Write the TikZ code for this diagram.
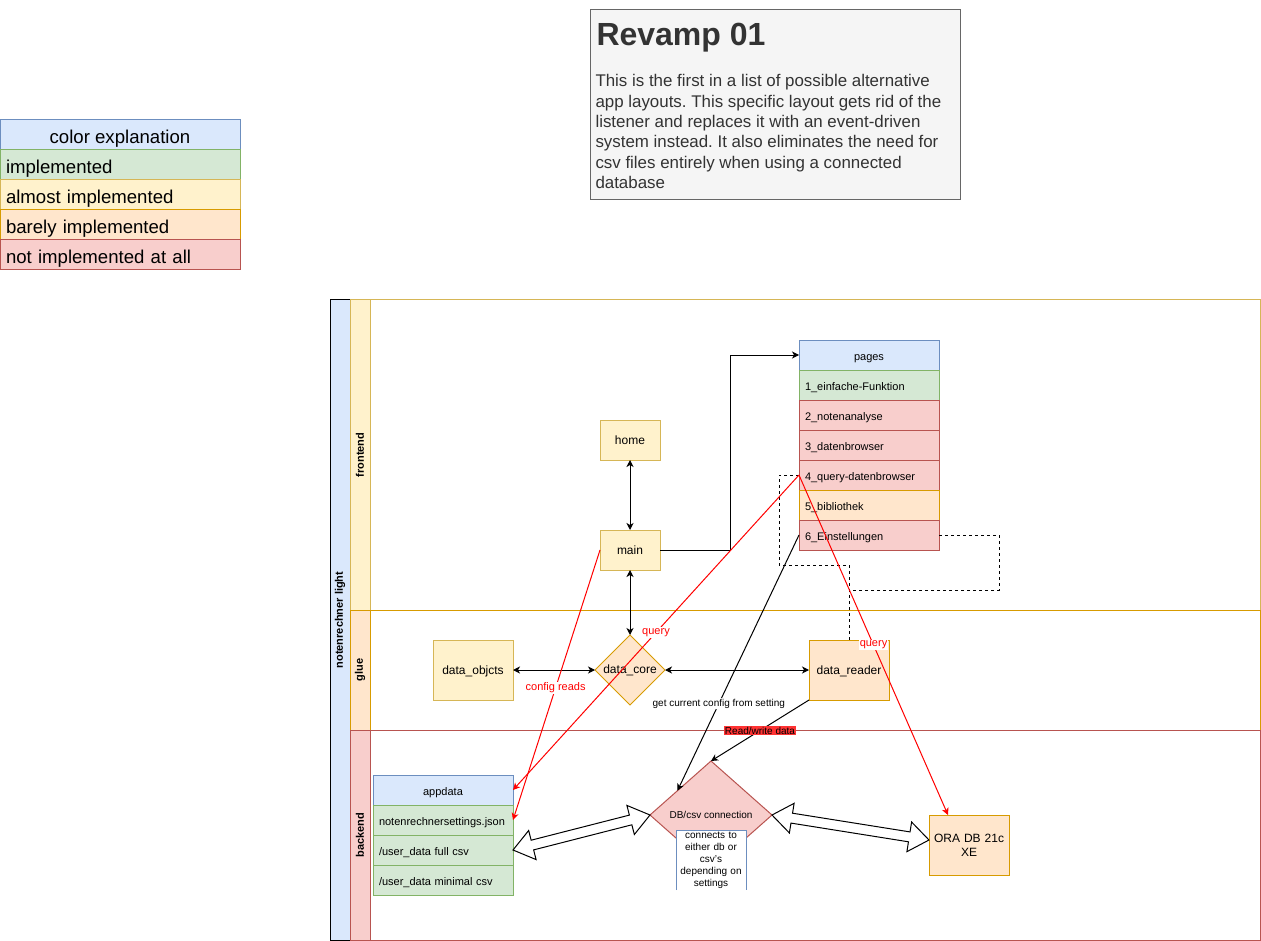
\documentclass[tikz,border=0pt]{standalone}
\usepackage{fontspec}
\setmainfont{Liberation Sans}
\usetikzlibrary{shapes.geometric,arrows.meta,calc}
\definecolor{bF}{HTML}{DAE8FC}\definecolor{bS}{HTML}{6C8EBF}
\definecolor{gF}{HTML}{D5E8D4}\definecolor{gS}{HTML}{82B366}
\definecolor{yF}{HTML}{FFF2CC}\definecolor{yS}{HTML}{D6B656}
\definecolor{oF}{HTML}{FFE6CC}\definecolor{oS}{HTML}{D79B00}
\definecolor{rF}{HTML}{F8CECC}\definecolor{rS}{HTML}{B85450}
\definecolor{grF}{HTML}{F5F5F5}\definecolor{grS}{HTML}{666666}
\definecolor{txt}{HTML}{333333}
\definecolor{lred}{HTML}{FF3333}
\definecolor{ered}{HTML}{FF0000}
\newcommand\fsz[2]{\fontsize{#1}{#2}\selectfont}
\newcommand\flexarr[2]{%
 \draw[fill=white, line width=1pt, line join=miter]
  (#1) -- ($(#1)!20pt!(#2)!15pt!90:(#2)$) -- ($(#1)!20pt!(#2)!5pt!90:(#2)$)
  -- ($(#2)!20pt!(#1)!5pt!-90:(#1)$) -- ($(#2)!20pt!(#1)!15pt!-90:(#1)$) -- (#2)
  -- ($(#2)!20pt!(#1)!15pt!90:(#1)$) -- ($(#2)!20pt!(#1)!5pt!90:(#1)$)
  -- ($(#1)!20pt!(#2)!5pt!-90:(#2)$) -- ($(#1)!20pt!(#2)!15pt!-90:(#2)$) -- cycle;}
\frenchspacing
\begin{document}
\begin{tikzpicture}[x=1pt,y=-1pt, line width=1pt,
 box/.style={draw, inner sep=0pt, outer sep=0pt, font=\fsz{12}{14}},
 one/.style={text height=10.8pt, text depth=2.4pt},
 blu/.style={fill=bF,draw=bS}, grn/.style={fill=gF,draw=gS},
 yel/.style={fill=yF,draw=yS}, org/.style={fill=oF,draw=oS},
 rd/.style={fill=rF,draw=rS},
 row/.style={box, text height=12pt, text depth=2pt, minimum height=30pt, text width=128pt, inner xsep=6pt, align=left, font=\fsz{11}{13}},
 hdr/.style={box, text height=12pt, text depth=2pt, blu, minimum width=140pt, minimum height=30pt, font=\fsz{11}{13}},
 lrow/.style={box, text height=20.6pt, text depth=4pt, minimum height=30pt, text width=228pt, inner xsep=6pt, align=left, font=\fsz{18.6}{21}},
 arr/.style={-{Stealth[length=7pt,width=7pt,inset=2pt]}},
 darr/.style={{Stealth[length=7pt,width=7pt,inset=2pt]}-{Stealth[length=7pt,width=7pt,inset=2pt]}},
 lbl/.style={font=\fsz{11}{13}, fill=white, inner sep=1pt, text=ered},
 lane/.style={font=\bfseries\fsz{11}{13}, rotate=90}
]
\useasboundingbox (0,0) rectangle (1261,941);

% legend
\node[box, text height=20.6pt, text depth=4pt, blu, minimum width=240pt, minimum height=30pt, font=\fsz{18.6}{21}] (lg0) at (120,135) {color explanation};
\node[lrow, grn] (lg1) at (120,165) {implemented};
\node[lrow, yel] (lg2) at (120,195) {almost implemented};
\node[lrow, org] (lg3) at (120,225) {barely implemented};
\node[lrow, rd] (lg4) at (120,255) {not implemented at all};

% revamp box
\node[box, fill=grF, draw=grS, minimum width=370pt, minimum height=190pt] (rv) at (775,105) {};
\node[anchor=base west, inner sep=0pt, text=txt, font=\bfseries\fsz{32}{38}] (rvt) at (596,46) {Revamp 01};
\node[anchor=north west, inner sep=0pt, text=txt, align=left, font=\fsz{16.9}{20.4}] (rvb) at (595,74)
 {This is the first in a list of possible alternative\\app layouts. This specific layout gets rid of the\\listener and replaces it with an event-driven\\system instead. It also eliminates the need for\\csv files entirely when using a connected\\database};

% swimlanes
\draw (330,300) rectangle (1260.5,940);
\draw[fill=bF] (330,300) rectangle (350,940);
\draw[draw=yS] (350,300) rectangle (1260.5,610);
\draw[draw=yS, fill=yF] (350,300) rectangle (370,610);
\draw[draw=oS] (350,610) rectangle (1260.5,730);
\draw[draw=oS, fill=oF] (350,610) rectangle (370,730);
\draw[draw=rS] (350,730) rectangle (1260.5,940);
\draw[draw=rS, fill=rF] (350,730) rectangle (370,940);
\node[lane] (tpool) at (340,620) {notenrechner light};
\node[lane] (tfront) at (360,455) {frontend};
\node[lane] (tglue) at (360,670) {glue};
\node[lane] (tback) at (360,835) {backend};

% frontend
\node[box, one, yel, minimum width=60pt, minimum height=40pt] (home) at (630,440) {home};
\node[box, one, yel, minimum width=60pt, minimum height=40pt] (main) at (630,550) {main};
\node[hdr] (pg) at (869,355) {pages};
\node[row, grn] (p1) at (869,385) {1\_einfache-Funktion};
\node[row, rd] (p2) at (869,415) {2\_notenanalyse};
\node[row, rd] (p3) at (869,445) {3\_datenbrowser};
\node[row, rd] (p4) at (869,475) {4\_query-datenbrowser};
\node[row, org] (p5) at (869,505) {5\_bibliothek};
\node[row, rd] (p6) at (869,535) {6\_Einstellungen};

% glue
\node[box, one, yel, minimum width=80pt, minimum height=60pt] (dobj) at (473,670) {data\_objcts};
\node[box, org, shape=diamond, minimum width=70pt, minimum height=70pt] (dcore) at (630,670) {data\_core};
\node[box, one, org, minimum width=80pt, minimum height=60pt] (dread) at (849,670) {data\_reader};

% backend
\node[hdr] (ah) at (443,790) {appdata};
\node[row, grn] (a1) at (443,820) {notenrechnersettings.json};
\node[row, grn] (a2) at (443,850) {/user\_data full csv};
\node[row, grn] (a3) at (443,880) {/user\_data minimal csv};
\node[box, rd, shape=diamond, minimum width=122pt, minimum height=108pt, font=\fsz{10}{12}] (dbc) at (711,815) {DB/csv connection};
\node[inner sep=0pt, outer sep=0pt, fill=white, minimum width=70pt, minimum height=60pt, text width=70pt, align=center, font=\fsz{10}{12}] (cb) at (711,860) {connects to\\either db or\\csv's\\depending on\\settings};
\draw[bS] (cb.south west) -- (cb.north west) -- (cb.north east) -- (cb.south east);
\node[box, org, minimum width=80pt, minimum height=60pt, text width=76pt, align=center] (ora) at (969,845) {ORA DB 21c\\XE};

\coordinate (oraTop) at ($(ora.north)+(-21,0)$);
\coordinate (oraIn) at ($(ora.west)+(0,-5)$);
\coordinate (dbcNW) at ($(dbc.west)!0.45!(dbc.north)$);

% flex arrows
\flexarr{a2.east}{dbc.west}
\flexarr{dbc.east}{oraIn}

% black connectors
\draw[darr] (home.south) -- (main.north);
\draw[darr] (main.south) -- (dcore.north);
\draw[darr] (dobj.east) -- (dcore.west);
\draw[darr] (dcore.east) -- (dread.west);
\draw[arr] (main.east) -- ++(70,0) |- (pg.west);
\draw[line width=0.8pt, dashed] (p4.west) -- ++(-20,0) -- ++(0,90) -| (dread.north);
\draw[line width=0.8pt, dashed] (p6.east) -- ++(60,0) -- ++(0,55) -| (dread.north);
\draw[arr] (p6.west) -- node[pos=0.66, font=\fsz{10}{12}, fill=white, inner sep=1pt] {get current config from setting} (dbcNW);
\draw[arr] (dread.south west) -- node[font=\fsz{10}{12}, fill=lred, inner sep=1pt] {Read/write data} (dbc.north);

% red connectors
\draw[ered, arr] (main.west) -- node[lbl, pos=0.51] {config reads} (a1.east);
\draw[ered, arr] (p4.west) -- node[lbl] {query} (ah.east);
\draw[ered, arr] (p4.west) -- node[lbl] {query} (oraTop);
\end{tikzpicture}
\end{document}
